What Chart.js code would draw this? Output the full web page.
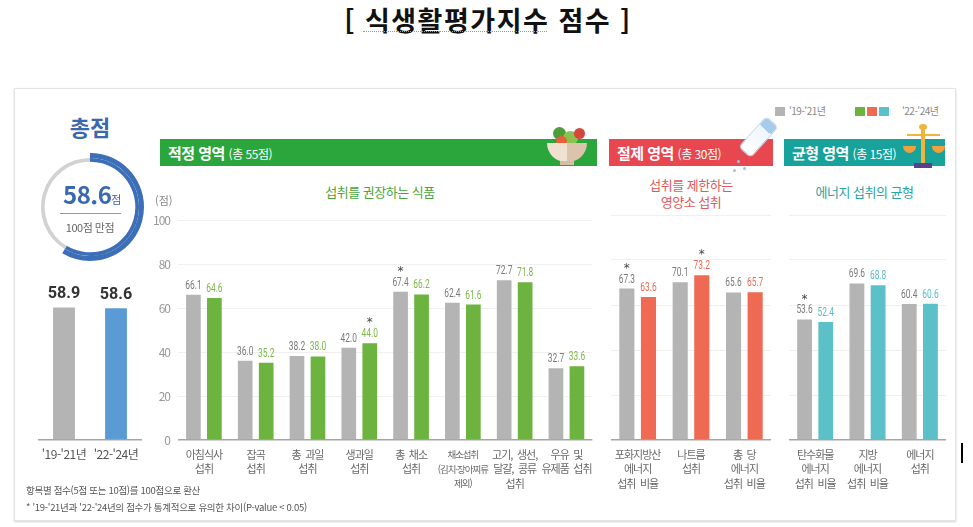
<!DOCTYPE html>
<html lang="ko">
<head>
<meta charset="utf-8">
<title>식생활평가지수 점수</title>
<script src="https://cdn.jsdelivr.net/npm/chart.js@4.4.1/dist/chart.umd.min.js"></script>
<style>
  html, body { margin: 0; padding: 0; background: #fff; }
  body { width: 973px; height: 527px; position: relative; overflow: hidden;
         font-family: "Noto Sans CJK KR", "Noto Sans", sans-serif; }
  .abs { position: absolute; }
  canvas { position: absolute; }
  #title { left: 0; top: 0px; width: 976px; text-align: center; font-size: 27px; line-height: 40px; font-weight: bold; color: #111; letter-spacing: 1.5px; }
  #panel { left: 14px; top: 88px; width: 940px; height: 431px; border: 1px solid #e3e3e3; box-shadow: 0 1px 2px rgba(0,0,0,0.18); }
  .head { height: 27px; top: 139px; color: #fff; font-weight: bold; font-size: 15px; line-height: 27px; padding-left: 8px; box-sizing: border-box; letter-spacing: -0.5px; }
  .head small { font-size: 12px; font-weight: normal; }
  .sub { font-size: 13px; text-align: center; line-height: 17px; letter-spacing: -0.5px; }
  .leg { font-size: 10px; color: #888; top: 103px; letter-spacing: -0.5px; }
  .sw { width: 10px; height: 9px; top: 107px; }
  .note { font-size: 9.5px; color: #555; left: 26px; letter-spacing: -0.3px; }
</style>
</head>
<body>
<div id="title" class="abs">[ 식생활평가지수 점수 ]</div>
<div class="abs" style="left:363px;top:31px;width:184px;border-top:1.5px dotted #e0892a;"></div>
<div id="panel" class="abs"></div>

<!-- total score -->
<div class="abs" style="left:40px;top:110px;width:100px;text-align:center;font-size:22px;font-weight:bold;color:#3b69b0;">총점</div>
<canvas id="gauge" width="112" height="112" style="left:34px;top:151px;"></canvas>
<div class="abs" style="left:42px;top:179px;width:100px;text-align:center;color:#3b69b0;font-weight:bold;font-size:24px;line-height:30px;letter-spacing:-0.5px;">58.6<span style="font-size:11px;font-weight:normal;">점</span></div>
<div class="abs" style="left:60px;top:213px;width:61px;height:1px;background:#999;"></div>
<div class="abs" style="left:40px;top:219px;width:100px;text-align:center;color:#666;font-size:11px;letter-spacing:-0.5px;">100점 만점</div>
<canvas id="totalChart" width="120" height="315" style="left:30px;top:205px;"></canvas>

<!-- legend -->
<div class="abs sw" style="left:775px;background:#b4b4b4;"></div>
<div class="abs leg" style="left:789px;">'19-'21년</div>
<div class="abs sw" style="left:855px;background:#6db33f;"></div>
<div class="abs sw" style="left:867px;background:#ee6a52;"></div>
<div class="abs sw" style="left:879px;background:#5cc0c8;"></div>
<div class="abs leg" style="left:902px;">'22-'24년</div>

<!-- section headers -->
<div class="abs head" style="left:160px;width:437px;background:#2aa63c;">적정 영역 <small>(총 55점)</small></div>
<div class="abs head" style="left:609px;width:164px;background:#e8474f;">절제 영역 <small>(총 30점)</small></div>
<div class="abs head" style="left:784px;width:161px;background:#17a39b;">균형 영역 <small>(총 15점)</small></div>

<!-- salad bowl -->
<div class="abs" style="left:553px;top:127px;width:13px;height:13px;border-radius:50%;background:#4f9c3b;"></div>
<div class="abs" style="left:563px;top:131px;width:15px;height:14px;border-radius:50%;background:#8cc152;"></div>
<div class="abs" style="left:574px;top:128px;width:11px;height:11px;border-radius:50%;background:#d9453c;"></div>
<div class="abs" style="left:556px;top:136px;width:11px;height:10px;border-radius:50%;background:#e8603b;"></div>
<div class="abs" style="left:547px;top:143px;width:40px;height:19px;border-radius:0 0 20px 20px;background:linear-gradient(90deg,#efe0cf 0,#efe0cf 50%,#dcc4ac 50%);"></div>
<div class="abs" style="left:560px;top:161px;width:14px;height:4px;background:#d6bea6;"></div>

<!-- salt shaker -->
<div class="abs" style="left:750px;top:116px;width:15px;height:40px;border-radius:5px;background:linear-gradient(#a8cbea 0,#a8cbea 25%,#eef5fb 25%,#ffffff 100%);border:1px solid #c6dbea;transform:rotate(42deg);"></div>
<div class="abs" style="left:737px;top:160px;width:3px;height:3px;border-radius:50%;background:#9dc3e6;"></div>
<div class="abs" style="left:743px;top:167px;width:3px;height:3px;border-radius:50%;background:#9dc3e6;"></div>
<div class="abs" style="left:733px;top:169px;width:3px;height:3px;border-radius:50%;background:#9dc3e6;"></div>

<!-- scales -->
<div class="abs" style="left:921px;top:127px;width:4px;height:38px;background:#f0b43c;"></div>
<div class="abs" style="left:919px;top:124px;width:8px;height:6px;border-radius:50%;background:#f0b43c;"></div>
<div class="abs" style="left:907px;top:134px;width:33px;height:2px;background:#f0b43c;"></div>
<div class="abs" style="left:903px;top:146px;width:13px;height:7px;border-radius:0 0 7px 7px;background:#f0a03c;"></div>
<div class="abs" style="left:932px;top:146px;width:13px;height:7px;border-radius:0 0 7px 7px;background:#f0a03c;"></div>
<div class="abs" style="left:914px;top:163px;width:18px;height:5px;background:#5b3f8c;"></div>

<!-- sub titles -->
<div class="abs sub" style="left:290px;top:183px;width:180px;color:#4aa53c;">섭취를 권장하는 식품</div>
<div class="abs sub" style="left:609px;top:176px;width:164px;color:#e0585a;">섭취를 제한하는<br>영양소 섭취</div>
<div class="abs sub" style="left:784px;top:183px;width:161px;color:#2aa5a5;">에너지 섭취의 균형</div>
<div class="abs" style="left:155px;top:192px;font-size:11px;color:#888;">(점)</div>

<canvas id="chartA" width="472" height="315" style="left:130px;top:205px;"></canvas>
<canvas id="chartB" width="176" height="315" style="left:603px;top:205px;"></canvas>
<canvas id="chartC" width="173" height="315" style="left:781px;top:205px;"></canvas>

<div class="abs note" style="top:483px;">항목별 점수(5점 또는 10점)를 100점으로 환산</div>
<div class="abs note" style="top:500px;">* '19-'21년과 '22-'24년의 점수가 통계적으로 유의한 차이(P-value &lt; 0.05)</div>
<div class="abs" style="left:961px;top:443px;width:2px;height:20px;background:#000;"></div>

<script>
// Total score
const totalScore = 58.6;
const totalLabels = ["'19-'21년", "'22-'24년"];
const totalValues = [58.9, 58.6];

// 적정 영역
const adequacyLabels = [
    ['아침식사', '섭취'], ['잡곡', '섭취'], ['총 과일', '섭취'], ['생과일', '섭취'],
    ['총 채소', '섭취'], ['채소섭취', '(김치·장아찌류', '제외)'], ['고기, 생선,', '달걀, 콩류', '섭취'],
    ['우유 및', '유제품 섭취']
];
const adequacyBefore = [66.1, 36.0, 38.2, 42.0, 67.4, 62.4, 72.7, 32.7];
const adequacyAfter = [64.6, 35.2, 38.0, 44.0, 66.2, 61.6, 71.8, 33.6];
const adequacyBeforeStars = [0, 0, 0, 0, 1, 0, 0, 0];
const adequacyAfterStars = [0, 0, 0, 1, 0, 0, 0, 0];

// 절제 영역
const moderationLabels = [['포화지방산', '에너지', '섭취 비율'], ['나트륨', '섭취'], ['총 당', '에너지', '섭취 비율']];
const moderationBefore = [67.3, 70.1, 65.6];
const moderationAfter = [63.6, 73.2, 65.7];
const moderationBeforeStars = [1, 0, 0];
const moderationAfterStars = [0, 1, 0];

// 균형 영역
const balanceLabels = [['탄수화물', '에너지', '섭취 비율'], ['지방', '에너지', '섭취 비율'], ['에너지', '섭취']];
const balanceBefore = [53.6, 69.6, 60.4];
const balanceAfter = [52.4, 68.8, 60.6];
const balanceBeforeStars = [1, 0, 0];
const balanceAfterStars = [0, 0, 0];

const yTicks = [0, 20, 40, 60, 80, 100];

Chart.defaults.font.family = '"Noto Sans CJK KR", "Noto Sans", sans-serif';
Chart.defaults.animation = false;

// tighter letter spacing for axis text (the source uses a condensed face)
const tightText = {
    id: 'tightText',
    beforeDraw(chart, args, opts) {
        chart.ctx.letterSpacing = opts.spacing || '0px';
    }
};

// value labels (and significance stars) above bars
const valueLabels = {
    id: 'valueLabels',
    afterDatasetsDraw(chart, args, opts) {
        const ctx = chart.ctx;
        chart.data.datasets.forEach((ds, i) => {
            const meta = chart.getDatasetMeta(i);
            meta.data.forEach((bar, j) => {
                ctx.save();
                ctx.letterSpacing = '0px';
                ctx.font = opts.font;
                ctx.textAlign = 'center';
                ctx.textBaseline = 'bottom';
                ctx.translate(bar.x, bar.y - opts.offset);
                ctx.scale(opts.squeeze, 1);
                ctx.fillStyle = ds.labelColor;
                ctx.fillText(ds.data[j].toFixed(1), 0, 0);
                if (ds.stars && ds.stars[j]) {
                    ctx.scale(1 / opts.squeeze, 1);
                    ctx.font = '12px "DejaVu Sans", sans-serif';
                    ctx.fillStyle = '#444';
                    ctx.fillText('*', 0, -11);
                }
                ctx.restore();
            });
        });
    }
};

function yScale(showTicks) {
    return {
        min: 0, max: 100,
        afterBuildTicks: s => { s.ticks = yTicks.map(v => ({ value: v })); },
        afterFit: s => { s.width = showTicks ? 48 : 0; },
        border: { display: false },
        grid: {
            drawTicks: false,
            color: c => c.tick.value === 0 ? '#a5a5a5' : '#f0f0f0',
            lineWidth: c => c.tick.value === 0 ? 1.5 : 1
        },
        ticks: { display: showTicks, color: '#9a9a9a', font: { size: 12 }, padding: 8 }
    };
}

// wider gap for word spaces, since the letter spacing is tightened
const widenSpaces = function (value) {
    const label = this.getLabelForValue(value);
    return Array.isArray(label) ? label.map(s => s.replace(/ /g, '\u2002')) : label;
};

function xScale(font, color) {
    return {
        afterFit: s => { s.height = 80; },
        border: { display: false },
        grid: { display: false, drawTicks: false },
        ticks: { color: color, font: font, padding: 7, maxRotation: 0, autoSkip: false, callback: widenSpaces }
    };
}

const numberFont = '12px Roboto, "Noto Sans", sans-serif';

function makeSection(id, labels, before, after, beforeStars, afterStars, barColor, textColor, showTicks, pad, tickFont) {
    return new Chart(document.getElementById(id), {
        type: 'bar',
        data: {
            labels: labels,
            datasets: [
                { data: before, backgroundColor: '#b4b4b4', labelColor: '#7a7a7a', stars: beforeStars,
                  categoryPercentage: 0.81, barPercentage: 0.7 },
                { data: after, backgroundColor: barColor, labelColor: textColor, stars: afterStars,
                  categoryPercentage: 0.81, barPercentage: 0.7 }
            ]
        },
        options: {
            responsive: false,
            layout: { padding: pad },
            scales: { x: xScale(tickFont, '#6a6a6a'), y: yScale(showTicks) },
            plugins: {
                legend: { display: false },
                tooltip: { enabled: false },
                tightText: { spacing: '-1px' },
                valueLabels: { font: numberFont, offset: 3, squeeze: 0.7 }
            }
        },
        plugins: [tightText, valueLabels]
    });
}

const sectionTickFont = { size: 11, lineHeight: 1.35 };

makeSection('chartA', adequacyLabels, adequacyBefore, adequacyAfter, adequacyBeforeStars, adequacyAfterStars,
    '#6db33f', '#7cb84a', true, { top: 10, right: 8, left: 0, bottom: 0 },
    c => c.index === 5 ? { size: 9.5, lineHeight: 1.55 } : sectionTickFont);
makeSection('chartB', moderationLabels, moderationBefore, moderationAfter, moderationBeforeStars, moderationAfterStars,
    '#ee6a52', '#ea6a55', false, { top: 10, right: 8, left: 8, bottom: 0 }, sectionTickFont);
makeSection('chartC', balanceLabels, balanceBefore, balanceAfter, balanceBeforeStars, balanceAfterStars,
    '#5cc0c8', '#5bbcc6', false, { top: 10, right: 8, left: 8, bottom: 0 }, sectionTickFont);

// total bars
new Chart(document.getElementById('totalChart'), {
    type: 'bar',
    data: {
        labels: totalLabels,
        datasets: [{ data: totalValues, backgroundColor: ['#b4b4b4', '#5b9bd5'], labelColor: '#333',
                     categoryPercentage: 1, barPercentage: 0.42 }]
    },
    options: {
        responsive: false,
        layout: { padding: { top: 10, right: 8, left: 8, bottom: 0 } },
        scales: {
            x: xScale({ size: 12 }, '#555'),
            y: Object.assign(yScale(false), {
                grid: { drawTicks: false, color: c => c.tick.value === 0 ? '#a5a5a5' : 'rgba(0,0,0,0)', lineWidth: 1.5 }
            })
        },
        plugins: {
            legend: { display: false },
            tooltip: { enabled: false },
            tightText: { spacing: '-0.5px' },
            valueLabels: { font: 'bold 17px Roboto, sans-serif', offset: 5, squeeze: 0.95 }
        }
    },
    plugins: [tightText, valueLabels]
});

// total score ring
new Chart(document.getElementById('gauge'), {
    type: 'doughnut',
    data: {
        datasets: [
            { data: [totalScore, 100 - totalScore], backgroundColor: ['#3d6fb8', 'rgba(0,0,0,0)'], borderWidth: 0, weight: 4 },
            { data: [totalScore, 100 - totalScore], backgroundColor: ['#3d6fb8', '#d2d2d2'], borderWidth: 0, weight: 3 }
        ]
    },
    options: {
        responsive: false,
        radius: 54,
        cutout: 47,
        plugins: { legend: { display: false }, tooltip: { enabled: false } }
    }
});
</script>
</body>
</html>
